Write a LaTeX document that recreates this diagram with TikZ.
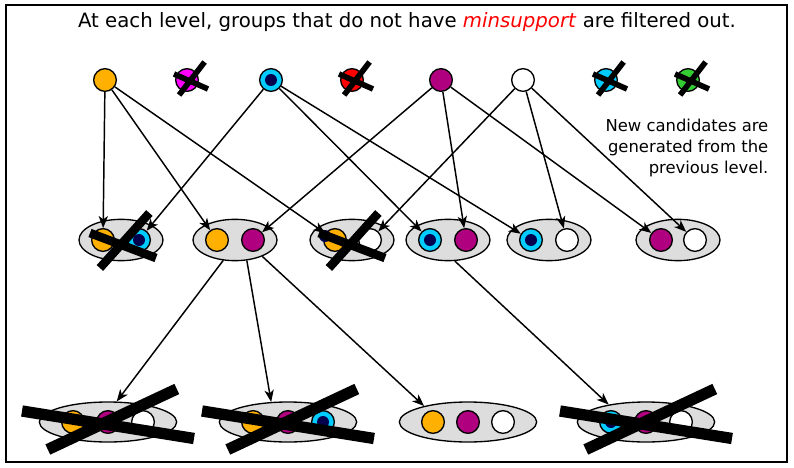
\documentclass[tikz,border=0pt]{standalone}
\usepackage{fontspec}
\setmainfont{DejaVu Sans}
\usepackage{xcolor}
\usetikzlibrary{arrows.meta, positioning, shapes.geometric}

\definecolor{orangec}{HTML}{FFB000}
\definecolor{magc}{HTML}{FF00FF}
\definecolor{skyc}{HTML}{00CCFF}
\definecolor{navyc}{HTML}{00004D}
\definecolor{redc}{HTML}{FF0000}
\definecolor{plumc}{HTML}{B0007F}
\definecolor{greenc}{HTML}{33CC33}
\definecolor{lightg}{HTML}{DDDDDD}

% centre, x-size, y-size, stroke width
\newcommand{\xout}[4]{%
  \begin{scope}[shift={#1}, xscale=#2, yscale=#3]
    \draw[line width=#4] (-1,-0.2) -- (1,0.3) (0.8,-0.6) -- (-0.7,0.5);
  \end{scope}}

\begin{document}
\begin{tikzpicture}[
  x=0.75pt, y=-0.75pt,
  dot/.style={circle, draw, line width=1pt, minimum size=17pt, inner sep=0pt},
  cyandot/.style={dot, fill=skyc, path picture={\fill[navyc] (path picture bounding box.center) circle (4.5pt);}},
  pair/.style={ellipse, draw, fill=lightg, line width=1pt, minimum width=63pt, minimum height=31pt, inner sep=0pt},
  triple/.style={pair, minimum width=103pt, minimum height=30pt},
  arrow/.style={-{Stealth[length=9pt, width=7pt, inset=2.5pt]}, line width=1.1pt}
]
\useasboundingbox (0,0) rectangle (794,468);
\draw[line width=1.2pt] (6,5) rectangle (787,462);

\node (title) at (407,22) {\fontsize{14.8}{17}\selectfont At each level, groups that do not have \textcolor{redc}{\textit{minsupport}} are filtered out.};
\node[align=right, anchor=east, font=\fontsize{12.3}{15.4}\selectfont] (note) at (773,148) {New candidates are\\generated from the\\previous level.};

% first level
\node[dot, fill=orangec] (a) at (105,80) {};
\node[dot, fill=magc] (b) at (187,80) {};
\node[cyandot] (c) at (271,80) {};
\node[dot, fill=redc] (d) at (352,80) {};
\node[dot, fill=plumc] (e) at (441,80) {};
\node[dot, fill=white] (f) at (523,80) {};
\node[dot, fill=skyc] (g) at (606,80) {};
\node[dot, fill=greenc] (h) at (688,80) {};

% second level
\node[pair] (p1) at (121,240) {};
\node[dot, fill=orangec] (p1a) at (103,240) {};
\node[cyandot] (p1b) at (139,240) {};
\node[pair] (p2) at (235,240) {};
\node[dot, fill=orangec] (p2a) at (217,240) {};
\node[dot, fill=plumc] (p2b) at (253,240) {};
\node[pair] (p3) at (352,240) {};
\node[dot, fill=orangec] (p3a) at (335,240) {};
\node[dot, fill=white] (p3b) at (370,240) {};
\node[pair] (p4) at (448,240) {};
\node[cyandot] (p4a) at (430,240) {};
\node[dot, fill=plumc] (p4b) at (466,240) {};
\node[pair] (p5) at (549,240) {};
\node[cyandot] (p5a) at (531,240) {};
\node[dot, fill=white] (p5b) at (567,240) {};
\node[pair] (p6) at (678,240) {};
\node[dot, fill=plumc] (p6a) at (661,240) {};
\node[dot, fill=white] (p6b) at (695,240) {};

% third level
\node[triple] (t1) at (108,422) {};
\node[dot, fill=orangec] (t1a) at (73,422) {};
\node[dot, fill=plumc] (t1b) at (108,422) {};
\node[dot, fill=white] (t1c) at (143,422) {};
\node[triple] (t2) at (288,422) {};
\node[dot, fill=orangec] (t2a) at (253,422) {};
\node[dot, fill=plumc] (t2b) at (288,422) {};
\node[cyandot] (t2c) at (323,422) {};
\node[triple] (t3) at (468,422) {};
\node[dot, fill=orangec] (t3a) at (433,422) {};
\node[dot, fill=plumc] (t3b) at (468,422) {};
\node[dot, fill=white] (t3c) at (503,422) {};
\node[triple] (t4) at (646,422) {};
\node[cyandot] (t4a) at (611,422) {};
\node[dot, fill=plumc] (t4b) at (646,422) {};
\node[dot, fill=white] (t4c) at (681,422) {};

\draw[arrow] (a) -- (p1a);
\draw[arrow] (a) -- (p2a);
\draw[arrow] (a) -- (p3a);
\draw[arrow] (c) -- (p1b);
\draw[arrow] (c) -- (p4a);
\draw[arrow] (c) -- (p5a);
\draw[arrow] (e) -- (p2b);
\draw[arrow] (e) -- (p4b);
\draw[arrow] (e) -- (p6a);
\draw[arrow] (f) -- (p3b);
\draw[arrow] (f) -- (p5b);
\draw[arrow] (f) -- (p6b);

\draw[arrow] (p2.-120) -- (t1.67);
\draw[arrow] (p2.-60) -- (t2.130);
\draw[arrow] (p2.-31) -- (t3.160);
\draw[arrow] (p4.-72) -- (t4.155);

\node[circle, fill=navyc, minimum size=9pt, inner sep=0pt] (p3n) at (325,236) {};

% filtered out
\xout{(191,80)}{17}{30}{4.2pt}
\xout{(356,80)}{17}{30}{4.2pt}
\xout{(610,80)}{17}{30}{4.2pt}
\xout{(692,80)}{17}{30}{4.2pt}
\xout{(123,243)}{33}{50}{6.5pt}
\xout{(352,243)}{33}{50}{6.5pt}
\xout{(108,422)}{86}{55}{8.5pt}
\xout{(288,422)}{86}{55}{8.5pt}
\xout{(646,422)}{86}{55}{8.5pt}
\end{tikzpicture}
\end{document}
